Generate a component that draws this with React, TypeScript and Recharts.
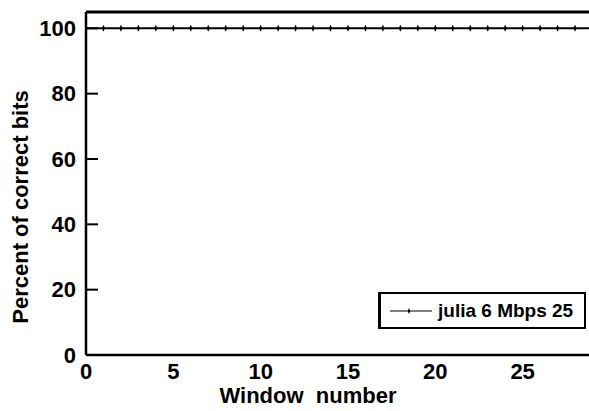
import { LineChart, Line, XAxis, YAxis, ReferenceLine, Label } from 'recharts'

// ─── Percent of correct bits per window ───────────────────────────────────────

const windows        = [0, 1, 2, 3, 4, 5, 6, 7, 8, 9, 10, 11, 12, 13, 14, 15, 16, 17, 18, 19, 20, 21, 22, 23, 24, 25, 26, 27, 28, 29, 30]
const percentCorrect = [100, 100, 100, 100, 100, 100, 100, 100, 100, 100, 100, 100, 100, 100, 100, 100, 100, 100, 100, 100, 100, 100, 100, 100, 100, 100, 100, 100, 100, 100, 100]
const xTicks = [0, 5, 10, 15, 20, 25]
const yTicks = [0, 20, 40, 60, 80, 100]
const seriesName = 'julia 6 Mbps 25'

const data = windows.map((w, i) => ({ window: w, pct: percentCorrect[i] }))

const INK  = '#000'
const FONT = '"Liberation Sans", Arial, Helvetica, sans-serif'
const TICK_SIZE = 22

function Marker(props: any) {
  const { cx, cy } = props
  if (cx == null || cy == null) return null
  return <path d={`M${cx},${cy - 3.5} L${cx + 1.6},${cy} L${cx},${cy + 3.5} L${cx - 1.6},${cy} Z`} fill={INK} />
}

function YTick(props: any) {
  const { x, y, payload } = props
  return (
    <g>
      <text x={x} y={y} textAnchor="end" dominantBaseline="central"
        fontFamily={FONT} fontWeight={700} fontSize={TICK_SIZE} fill={INK}>{payload.value}</text>
      <line x1={x + 10} x2={x + 22} y1={y} y2={y} stroke={INK} strokeWidth={2} />
    </g>
  )
}

function XTick(props: any) {
  const { x, y, payload } = props
  return (
    <text x={x} y={y} dy="0.71em" textAnchor="middle"
      fontFamily={FONT} fontWeight={700} fontSize={TICK_SIZE} fill={INK}>{payload.value}</text>
  )
}

export default function App() {
  return (
    <div style={s.page}>
      <LineChart width={589} height={411} data={data} margin={{ top: 12, right: 0, bottom: 0, left: 0 }}>
        <XAxis dataKey="window" type="number" domain={[0, 28.8]} ticks={xTicks} allowDataOverflow
          height={56} tickSize={0} tickMargin={8} tick={<XTick />}
          axisLine={{ stroke: INK, strokeWidth: 2.5 }} tickLine={false}>
          <Label content={({ viewBox }: any) => (
            <text x={viewBox.x + 222} y={viewBox.y + 48} textAnchor="middle"
              fontFamily={FONT} fontWeight={700} fontSize={22} fill={INK}>{'Window\u00a0\u00a0number'}</text>
          )} />
        </XAxis>
        <YAxis type="number" domain={[0, 105]} ticks={yTicks} allowDataOverflow
          width={86} tickSize={0} tickMargin={10} tick={<YTick />}
          axisLine={{ stroke: INK, strokeWidth: 2.5 }} tickLine={false}>
          <Label content={() => (
            <text x={20} y={207} textAnchor="middle" dominantBaseline="central" transform="rotate(-90 20 207)"
              fontFamily={FONT} fontWeight={700} fontSize={22} fill={INK}>Percent of correct bits</text>
          )} />
        </YAxis>
        <ReferenceLine y={105} stroke={INK} strokeWidth={3} />
        <Line dataKey="pct" name={seriesName} stroke={INK} strokeWidth={2}
          dot={<Marker />} activeDot={false} isAnimationActive={false} />
      </LineChart>

      {/* legend box, lower right */}
      <div style={s.legend}>
        <svg width={44} height={10} style={{ marginRight: 6 }}>
          <line x1={2} x2={44} y1={5} y2={5} stroke={INK} strokeWidth={1.2} />
          <path d="M21,2 L22.3,5 L21,8 L19.7,5 Z" fill={INK} />
        </svg>
        <span>{seriesName}</span>
      </div>
    </div>
  )
}

const s: Record<string, React.CSSProperties> = {
  page: {
    position: 'absolute', left: 0, top: 0, width: 589, height: 411,
    background: '#fff', fontFamily: FONT,
  },
  legend: {
    position: 'absolute', left: 378, top: 292, width: 208, height: 37,
    borderTop: '2.5px solid #000', borderBottom: '2.5px solid #000',
    borderLeft: '3px solid #000', borderRight: '2.5px solid #000',
    display: 'flex', alignItems: 'center', paddingLeft: 7, boxSizing: 'border-box',
    fontWeight: 700, fontSize: 19, color: '#000', whiteSpace: 'nowrap',
  },
}
